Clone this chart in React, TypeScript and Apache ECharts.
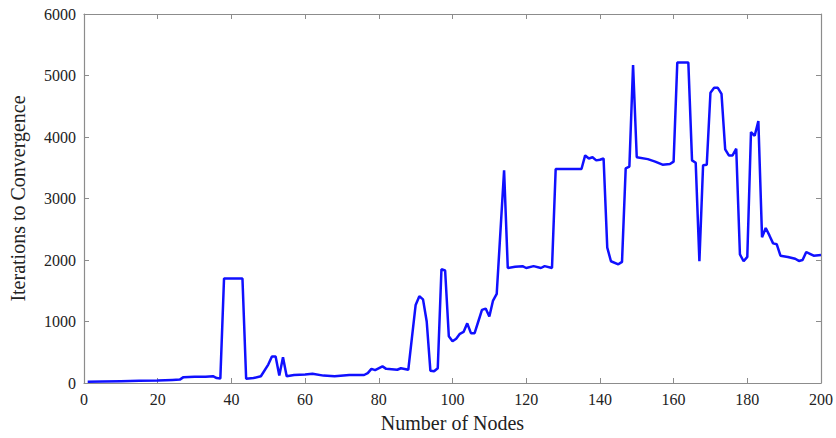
import React, { useEffect, useRef } from "react";
import * as echarts from "echarts";

const nodes = [1, 5, 10, 15, 20, 24, 26, 27, 30, 33, 35, 36, 37, 38, 43, 44, 46, 48, 50, 51, 52, 53, 54, 55, 57, 60, 62, 65, 68, 72, 76, 77, 78, 79, 81, 82, 85, 86, 88, 90, 91, 92, 93, 94, 95, 96, 97, 98, 99, 100, 101, 102, 103, 104, 105, 106, 107, 108, 109, 110, 111, 112, 114, 115, 117, 119, 120, 122, 124, 125, 127, 128, 135, 136, 137, 138, 139, 140, 141, 142, 143, 145, 146, 147, 148, 149, 150, 153, 155, 157, 159, 160, 161, 164, 165, 166, 167, 168, 169, 170, 171, 172, 173, 174, 175, 176, 177, 178, 179, 180, 181, 182, 183, 184, 185, 186, 187, 188, 189, 191, 193, 194, 195, 196, 197, 198, 200];
const iterations = [20, 25, 30, 35, 40, 50, 55, 95, 100, 100, 110, 80, 75, 1700, 1700, 70, 80, 110, 300, 430, 430, 120, 420, 110, 130, 140, 150, 120, 110, 130, 130, 160, 230, 210, 270, 230, 215, 240, 215, 1270, 1410, 1360, 1000, 200, 190, 240, 1850, 1830, 760, 680, 720, 800, 830, 970, 810, 810, 1000, 1190, 1210, 1080, 1340, 1450, 3460, 1870, 1890, 1900, 1870, 1900, 1870, 1900, 1870, 3480, 3480, 3700, 3650, 3670, 3620, 3630, 3650, 2200, 1980, 1930, 1970, 3490, 3520, 5170, 3670, 3640, 3600, 3550, 3560, 3600, 5210, 5210, 3620, 3580, 1980, 3540, 3550, 4720, 4800, 4800, 4700, 3800, 3700, 3700, 3810, 2090, 1980, 2050, 4080, 4020, 4260, 2370, 2520, 2400, 2270, 2255, 2070, 2050, 2020, 1985, 2000, 2130, 2100, 2070, 2080];

const xTitle = "Number of Nodes";
const yTitle = "Iterations to Convergence";

export default function App() {
  const ref = useRef<HTMLDivElement>(null);
  useEffect(() => {
    if (!ref.current) return;
    const chart = echarts.init(ref.current, null, { renderer: "svg" });
    const font = "Liberation Serif";
    const axisLine = { show: true, onZero: false, lineStyle: { color: "#8c8c8c", width: 1.2 } };
    const tick = { show: true, inside: true, length: 5, lineStyle: { color: "#8c8c8c" } };
    const makeLabel = () => ({
      color: "#222",
      fontFamily: font,
      fontSize: 16,
      margin: 8,
      formatter: (v: number) => "{t|" + String(v) + "}",
      rich: { t: { fontFamily: font, fontSize: 16, color: "#222" } },
    });
    chart.setOption({
      animation: false,
      textStyle: { fontFamily: font },
      grid: { left: 81, right: 13, top: 14, bottom: 53 },
      xAxis: [
        {
          type: "value", min: 0, max: 200, interval: 20, position: "bottom",
          axisLine, axisTick: tick, splitLine: { show: false },
          axisLabel: makeLabel(),
          name: xTitle, nameLocation: "middle", nameGap: 30,
          nameTextStyle: { color: "#222", fontFamily: font, fontSize: 20 },
        },
        {
          type: "value", min: 0, max: 200, interval: 20, position: "top",
          axisLine, axisTick: tick, splitLine: { show: false }, axisLabel: { show: false },
        },
      ],
      yAxis: [
        {
          type: "value", min: 0, max: 6000, interval: 1000, position: "left",
          axisLine, axisTick: tick, splitLine: { show: false },
          axisLabel: makeLabel(),
          name: yTitle, nameLocation: "middle", nameGap: 56,
          nameTextStyle: { color: "#222", fontFamily: font, fontSize: 20 },
        },
        {
          type: "value", min: 0, max: 6000, interval: 1000, position: "right",
          axisLine, axisTick: tick, splitLine: { show: false }, axisLabel: { show: false },
        },
      ],
      series: [
        {
          type: "line",
          data: nodes.map((n, i) => [n, iterations[i]]),
          showSymbol: false,
          lineStyle: { color: "#1010ff", width: 2.5 },
          xAxisIndex: 0, yAxisIndex: 0,
        },
      ],
    });
    return () => chart.dispose();
  }, []);
  return <div ref={ref} style={{ width: 836, height: 438, position: "absolute", left: 0, top: 0 }} />;
}
